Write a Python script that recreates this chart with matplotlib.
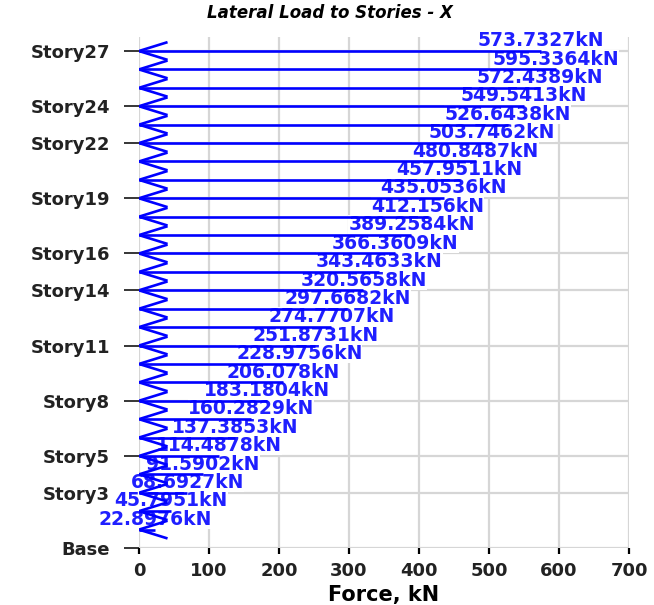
import matplotlib
matplotlib.use("Agg")
import matplotlib.pyplot as plt
import numpy as np

# lateral load per story, listed from the roof (Story27) down to Story1, kN
stories = [f"Story{n}" for n in range(27, 0, -1)]
story_forces = [
    573.7327, 595.3364, 572.4389, 549.5413, 526.6438, 503.7462, 480.8487,
    457.9511, 435.0536, 412.156, 389.2584, 366.3609, 343.4633, 320.5658,
    297.6682, 274.7707, 251.8731, 228.9756, 206.078, 183.1804, 160.2829,
    137.3853, 114.4878, 91.5902, 68.6927, 45.7951, 22.8976,
]
tick_stories = ["Base", "Story3", "Story5", "Story8", "Story11", "Story14",
                "Story16", "Story19", "Story22", "Story24", "Story27"]
force_ticks = [0, 100, 200, 300, 400, 500, 600, 700]

LOAD_BLUE = "#0000ff"
LABEL_BLUE = "#1f1fff"
GRID_GREY = "#d6d6d6"
ARROW_W = 39        # arrowhead depth in force units
BARB = 0.46         # arrowhead half-height in story units


def story_level(name):
    return 0 if name == "Base" else int(name.replace("Story", ""))


plt.rcParams["font.family"] = ["DejaVu Sans"]

fig = plt.figure(figsize=(6.54, 6.05), dpi=100)
ax = fig.add_axes([0.2125, 0.0942, 0.7493, 0.8446])

levels = [story_level(s) for s in stories]

for lvl, force in zip(levels, story_forces):
    # load arrow: shaft from the axis out to the force value, head at zero
    ax.plot([0, force], [lvl, lvl], color=LOAD_BLUE, lw=1.9,
            solid_capstyle="butt", zorder=4)
    ax.plot([ARROW_W, 0, ARROW_W], [lvl + BARB, lvl, lvl - BARB],
            color=LOAD_BLUE, lw=1.9, zorder=4)
    ax.text(force, lvl + 0.56, f"{force}kN", ha="center", va="center",
            fontsize=13.5, fontweight="bold", color=LABEL_BLUE, zorder=3,
            bbox=dict(facecolor="white", edgecolor="none", pad=0))

ax.set_xlim(0, 700)
ax.set_ylim(0, 27.76)
ax.set_xticks(force_ticks)
ax.set_yticks([story_level(s) for s in tick_stories])
ax.set_yticklabels(tick_stories)

ax.set_axisbelow(True)
ax.grid(True, color=GRID_GREY, lw=1.6)
for side in ax.spines.values():
    side.set_visible(False)

ax.tick_params(axis="y", direction="out", length=11, width=1.1,
               color="black", pad=10, labelsize=13, labelcolor="#222222")
ax.tick_params(axis="x", direction="out", length=4, width=1.6,
               color="black", pad=6, labelsize=13, labelcolor="#222222")
for lab in ax.get_xticklabels() + ax.get_yticklabels():
    lab.set_fontweight("bold")

ax.set_xlabel("Force, kN", fontsize=15, fontweight="bold", labelpad=4)
fig.text(0.505, 1 - 13 / 605, "Lateral Load to Stories - X", ha="center",
         va="center", fontsize=12, fontweight="bold", fontstyle="italic")

fig.savefig("out.png", dpi=100)
